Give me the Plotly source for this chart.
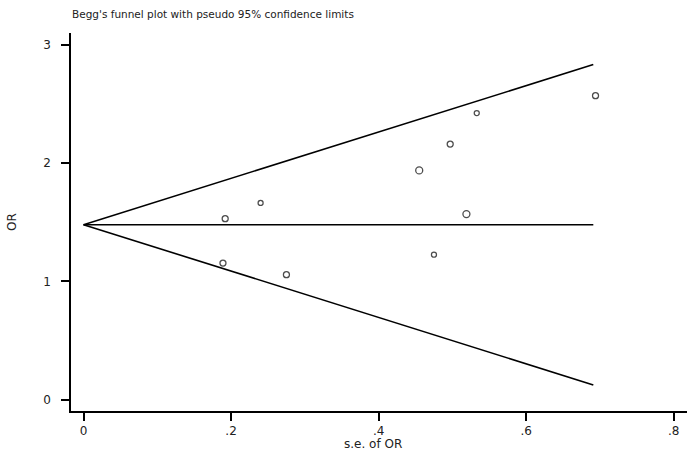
import plotly.graph_objects as go

# Study data
se_or = [0.189, 0.192, 0.240, 0.275, 0.455, 0.475, 0.497, 0.519, 0.533, 0.694]
or_vals = [1.155, 1.530, 1.663, 1.057, 1.938, 1.226, 2.161, 1.569, 2.423, 2.570]
marker_sizes = [6, 6, 5, 6, 7, 5, 6, 7, 5, 6]

pooled = 1.479
se_max = 0.691
funnel_se = [0.0, se_max]
upper = [pooled + 1.96 * s for s in funnel_se]
lower = [pooled - 1.96 * s for s in funnel_se]
center = [pooled, pooled]

x_ticks = [0, 0.2, 0.4, 0.6, 0.8]
x_ticktext = ["0", ".2", ".4", ".6", ".8"]
y_ticks = [0, 1, 2, 3]

FONT = "DejaVu Sans, Verdana"
TXT = "#222"

fig = go.Figure()
line_style = dict(color="black", width=1.6)
fig.add_trace(go.Scatter(x=funnel_se, y=upper, mode="lines", line=line_style, hoverinfo="skip"))
fig.add_trace(go.Scatter(x=funnel_se, y=center, mode="lines", line=line_style, hoverinfo="skip"))
fig.add_trace(go.Scatter(x=funnel_se, y=lower, mode="lines", line=line_style, hoverinfo="skip"))
fig.add_trace(go.Scatter(
    x=se_or, y=or_vals, mode="markers",
    marker=dict(symbol="circle-open", size=marker_sizes, color="black", line=dict(width=1.3)),
))

axis_common = dict(
    showgrid=False, zeroline=False, showline=True, linecolor="black", linewidth=1.6,
    ticks="outside", ticklen=8, tickwidth=1.5, tickcolor="black", automargin=False,
    tickfont=dict(family=FONT, size=12, color=TXT),
)

fig.update_layout(
    template="none",
    width=694, height=456,
    paper_bgcolor="white", plot_bgcolor="white",
    showlegend=False,
    margin=dict(l=71, r=7, t=33, b=45, pad=0),
    title=dict(
        text="Begg's funnel plot with pseudo 95% confidence limits",
        x=72 / 694, xanchor="left", y=1 - 14 / 456, yanchor="middle",
        font=dict(family=FONT, size=10.5, color=TXT),
    ),
    xaxis=dict(range=[-0.017, 0.818], tickvals=x_ticks, ticktext=x_ticktext,
               ticklabelstandoff=0, **axis_common),
    yaxis=dict(range=[-0.096, 3.10], tickvals=y_ticks, ticklabelstandoff=8, **axis_common),
    annotations=[
        dict(text="s.e. of OR", xref="paper", yref="paper", x=(373 - 71) / (694 - 78),
             y=-(444 - 411) / (456 - 78), xanchor="center", yanchor="middle",
             showarrow=False, font=dict(family=FONT, size=12, color=TXT)),
        dict(text="OR", xref="paper", yref="paper", x=-(71 - 12) / (694 - 78),
             y=(411 - 222) / (456 - 78), xanchor="center", yanchor="middle", textangle=-90,
             showarrow=False, font=dict(family=FONT, size=12, color=TXT)),
    ],
)

fig.write_html(
    "out.html",
    config={"displayModeBar": False},
    post_script="document.body.style.margin='0';document.body.style.overflow='hidden';",
)
